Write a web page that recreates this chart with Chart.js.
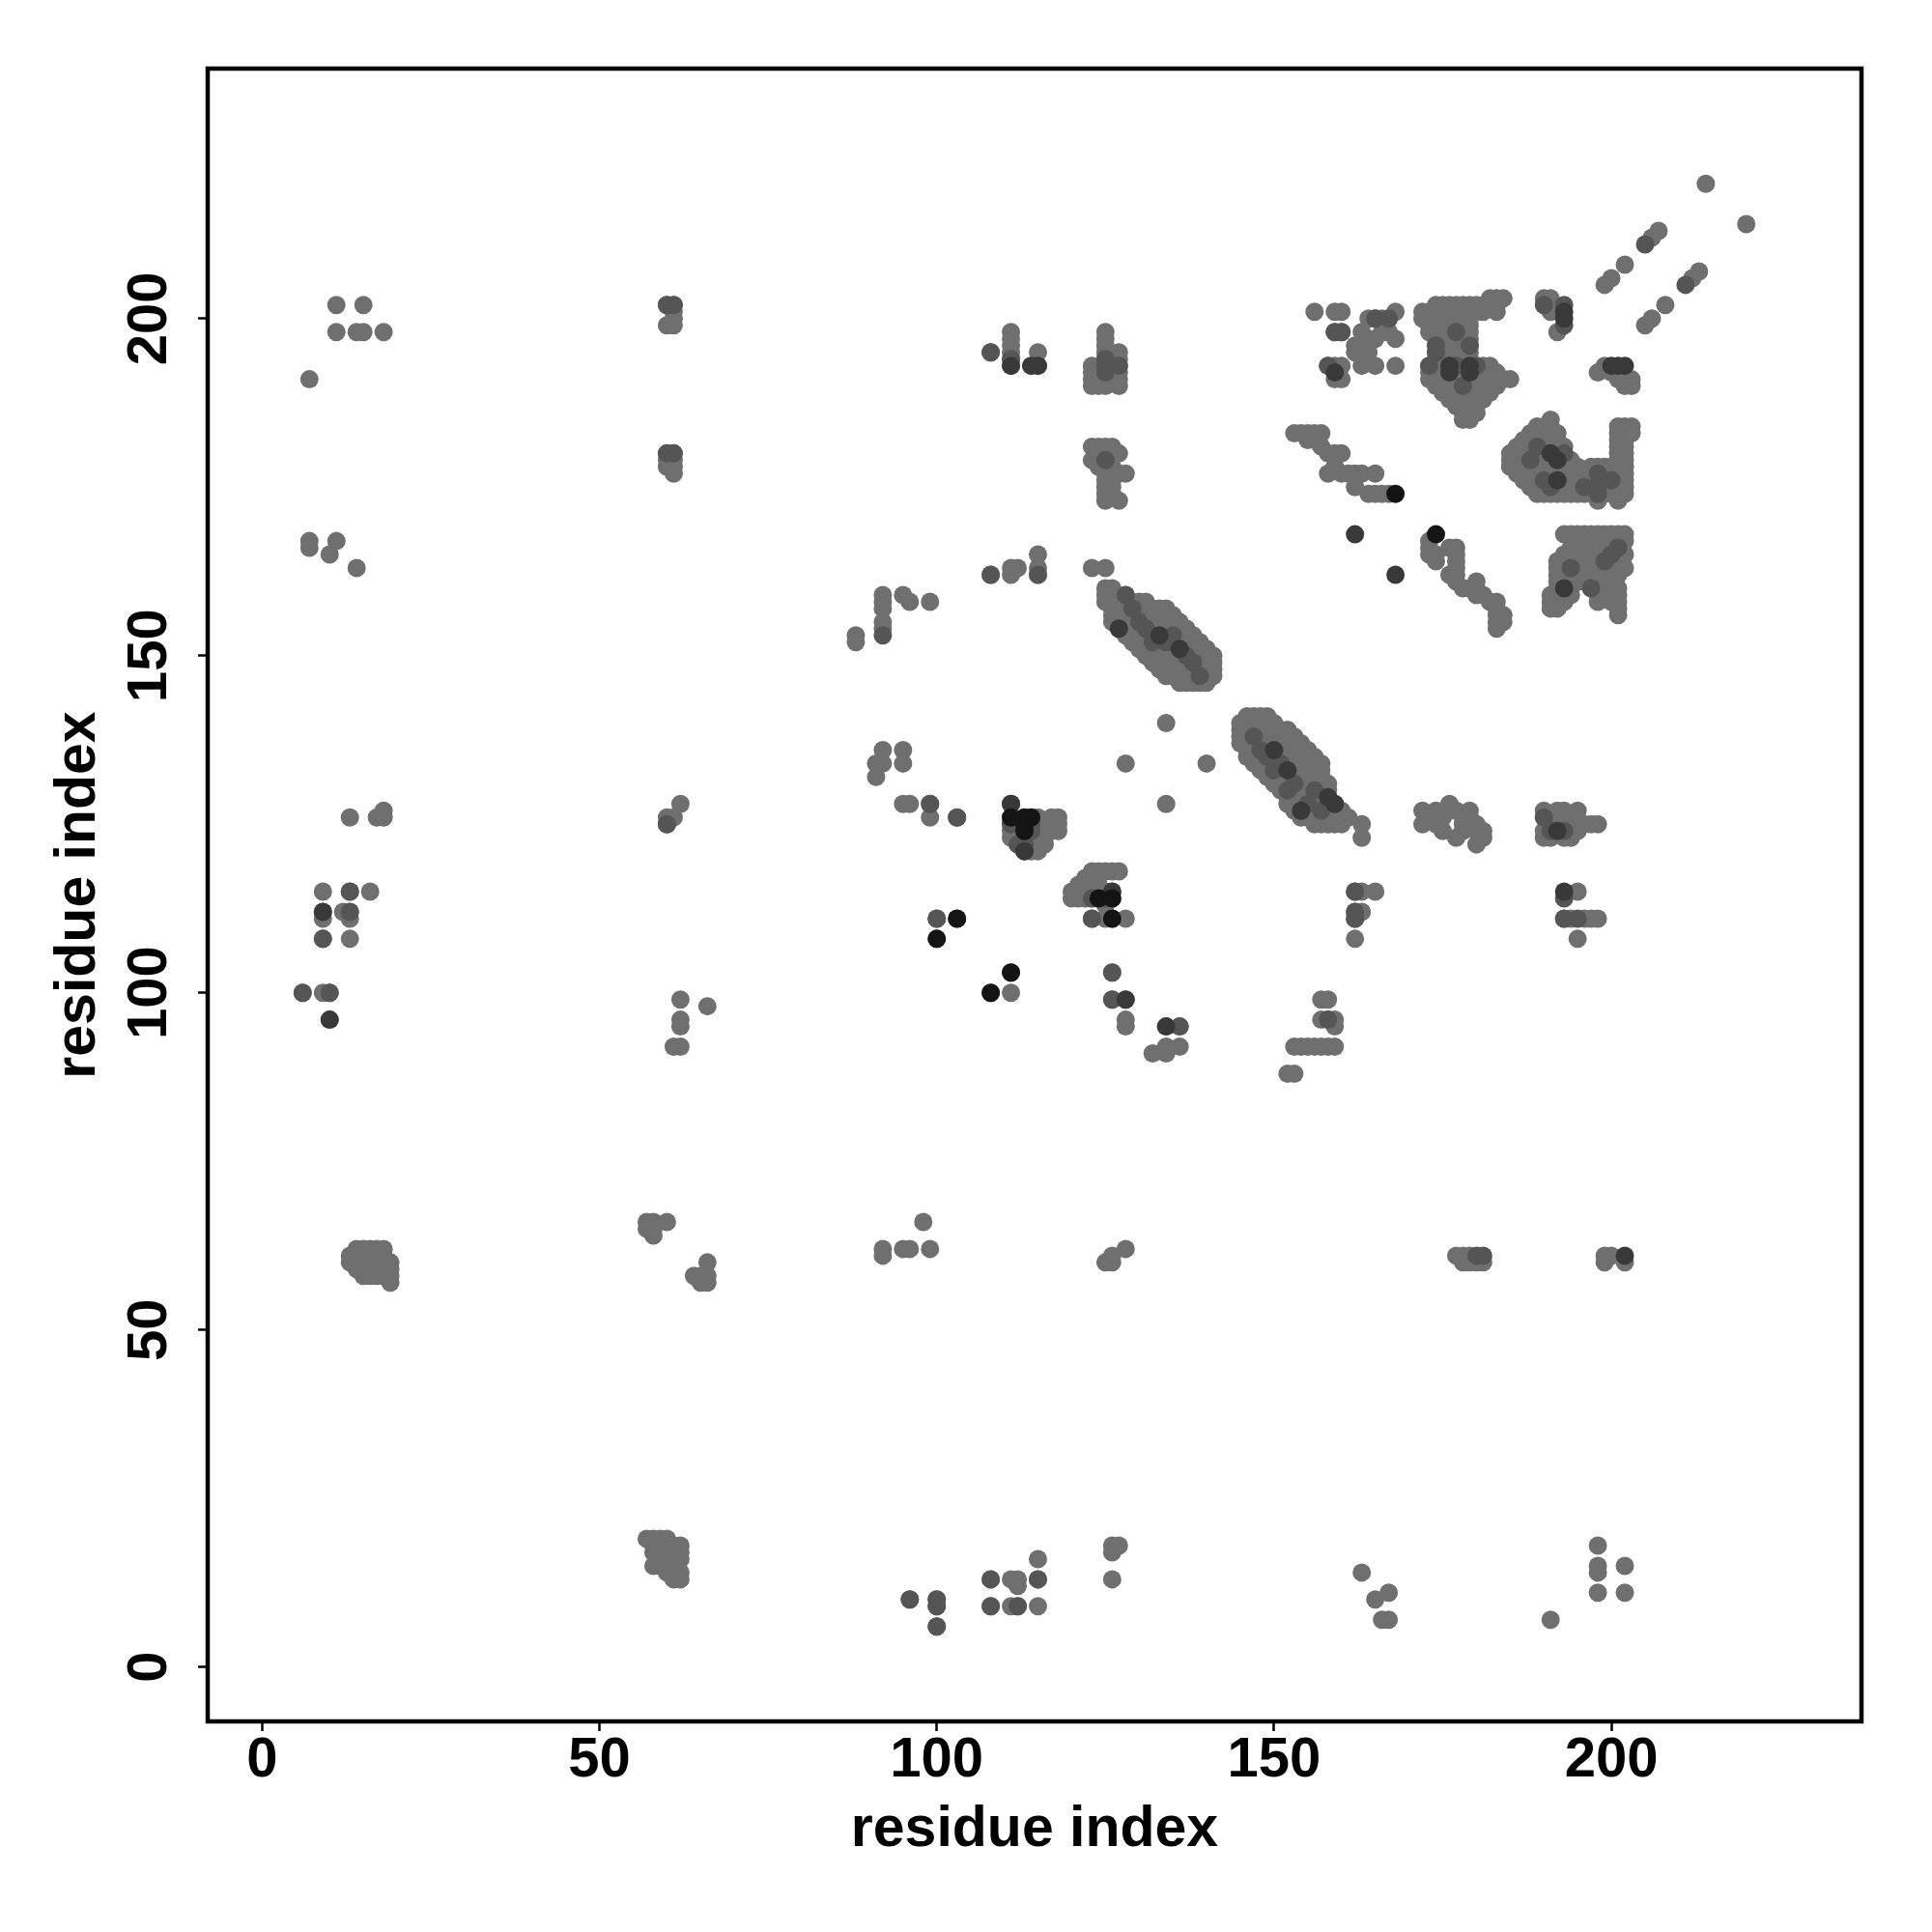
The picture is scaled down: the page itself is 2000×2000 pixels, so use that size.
<!DOCTYPE html>
<html>
<head>
<meta charset="utf-8">
<script src="https://cdn.jsdelivr.net/npm/chart.js@4.4.1/dist/chart.umd.min.js"></script>
<style>
  html, body { margin: 0; padding: 0; background: #fff; }
  canvas { display: block; }
</style>
</head>
<body>
<canvas id="contact-map" width="2000" height="2000"></canvas>
<script>
const xTickValues = [0, 50, 100, 150, 200];
const yTickValues = [0, 50, 100, 150, 200];
const xTitle = 'residue index';
const yTitle = 'residue index';

// grey contacts, one entry per residue column: [x, [y, y, ...]]
const contactColumns = [
    [6, [100]],
    [7, [191, 167, 166]],
    [9, [115, 112, 111, 108, 100]],
    [10, [165, 100, 96]],
    [11, [202, 198, 167]],
    [12, [112]],
    [13, [126, 115, 112, 111, 108, 61, 60]],
    [14, [198, 163, 62, 61, 60, 59]],
    [15, [202, 198, 62, 60, 59, 58]],
    [16, [115, 62, 61, 60, 59, 58]],
    [17, [126, 62, 61, 60, 58]],
    [18, [198, 127, 126, 62, 61, 59, 58]],
    [19, [60, 59, 58, 57]],
    [57, [66, 65, 19]],
    [58, [66, 65, 64, 19, 18, 17, 15]],
    [59, [19, 18, 17, 16, 15]],
    [60, [202, 199, 180, 179, 178, 126, 125, 66, 19, 18, 16, 15, 14]],
    [61, [202, 201, 200, 199, 180, 179, 178, 177, 126, 92, 18, 16, 15, 14, 13]],
    [62, [128, 99, 96, 95, 92, 18, 17, 16, 14, 13]],
    [64, [58]],
    [65, [58, 57]],
    [66, [98, 60, 58, 57]],
    [88, [153, 152]],
    [91, [134, 132]],
    [92, [159, 158, 157, 155, 154, 136, 134, 62, 61]],
    [95, [159, 136, 134, 128, 62]],
    [96, [158, 128, 62, 10]],
    [98, [66]],
    [99, [158, 128, 126, 62]],
    [100, [111, 108, 10, 9, 6]],
    [103, [126, 111]],
    [108, [195, 162, 100, 13, 9]],
    [111, [198, 197, 196, 195, 194, 193, 163, 162, 128, 126, 125, 124, 123, 103, 100, 13, 9]],
    [112, [163, 122, 13, 12, 9]],
    [113, [126, 125, 124, 123, 122, 121]],
    [114, [193, 126, 125, 124, 123, 122, 121]],
    [115, [195, 193, 165, 163, 162, 126, 124, 123, 121, 16, 13, 9]],
    [116, [125, 123, 122]],
    [117, [126, 125, 124]],
    [118, [126, 125, 124]],
    [120, [115, 114]],
    [121, [116, 115, 114]],
    [122, [117, 115, 114]],
    [123, [193, 192, 191, 190, 181, 179, 163, 118, 116, 114, 111]],
    [124, [190, 181, 178, 118, 116, 114]],
    [125, [198, 197, 196, 195, 194, 193, 192, 191, 190, 181, 179, 178, 177, 176, 175, 174, 173, 163, 160, 159, 158, 118, 115, 114, 113, 111, 60]],
    [126, [181, 178, 177, 176, 175, 174, 160, 159, 158, 157, 156, 155, 118, 115, 114, 111, 103, 99, 61, 60, 18, 17, 13]],
    [127, [195, 194, 193, 192, 191, 190, 180, 177, 173, 159, 158, 157, 156, 155, 154, 118, 18]],
    [128, [177, 159, 158, 157, 156, 155, 154, 153, 134, 111, 99, 96, 95, 62]],
    [129, [158, 157, 156, 155, 154, 153, 152]],
    [130, [158, 157, 156, 155, 154, 153, 152, 151]],
    [131, [158, 157, 156, 155, 154, 153, 152, 151, 150]],
    [132, [157, 156, 155, 154, 153, 152, 151, 150, 149, 91]],
    [133, [157, 156, 155, 154, 153, 152, 151, 150, 149, 148]],
    [134, [157, 156, 155, 154, 153, 152, 151, 150, 149, 148, 147, 140, 128, 95, 92, 91]],
    [135, [156, 155, 154, 153, 152, 151, 150, 149, 148, 147]],
    [136, [155, 154, 153, 152, 151, 150, 149, 148, 147, 146, 95, 92]],
    [137, [154, 153, 152, 151, 150, 149, 148, 147, 146]],
    [138, [153, 152, 151, 150, 149, 148, 147, 146]],
    [139, [152, 151, 150, 149, 148, 147, 146]],
    [140, [151, 150, 149, 148, 147, 146, 134]],
    [141, [150, 149, 148, 147]],
    [145, [140, 139, 138, 137]],
    [146, [141, 140, 139, 138, 137, 136, 135]],
    [147, [141, 140, 139, 138, 137, 136, 135, 134]],
    [148, [141, 140, 139, 138, 137, 136, 135, 134, 133]],
    [149, [141, 140, 139, 138, 137, 136, 135, 134, 133, 132]],
    [150, [140, 139, 138, 137, 136, 135, 134, 133, 132, 131]],
    [151, [139, 138, 137, 136, 135, 134, 133, 132, 131, 130]],
    [152, [139, 138, 137, 136, 135, 134, 133, 132, 131, 130, 129, 128, 88]],
    [153, [183, 138, 137, 136, 135, 134, 133, 132, 131, 130, 129, 128, 127, 92, 88]],
    [154, [183, 137, 136, 135, 134, 133, 132, 131, 130, 129, 128, 127, 126, 92]],
    [155, [183, 182, 136, 135, 134, 133, 132, 131, 130, 129, 128, 127, 126, 92]],
    [156, [201, 183, 182, 135, 134, 133, 132, 131, 130, 129, 128, 127, 126, 125, 92]],
    [157, [183, 181, 134, 133, 132, 131, 130, 129, 128, 127, 126, 125, 99, 96, 92]],
    [158, [193, 180, 177, 131, 130, 129, 128, 127, 126, 125, 99, 96, 92]],
    [159, [201, 198, 193, 192, 191, 180, 178, 128, 127, 126, 125, 96, 95, 92]],
    [160, [201, 198, 193, 191, 180, 177, 127, 126, 125]],
    [161, [177, 126]],
    [162, [196, 195, 177, 175, 115, 112, 111, 108]],
    [163, [198, 196, 193, 177, 125, 123, 115, 112, 14]],
    [164, [200, 197, 195, 174]],
    [165, [200, 197, 193, 177, 174, 115, 10]],
    [166, [200, 198, 174, 7]],
    [167, [200, 198, 174, 11, 7]],
    [168, [201, 197, 193]],
    [172, [201, 200, 127, 125]],
    [173, [201, 200, 199, 198, 193, 192, 191, 167, 166, 165, 126]],
    [174, [202, 200, 199, 198, 197, 196, 195, 194, 193, 192, 191, 190, 165, 164, 127, 125]],
    [175, [202, 201, 196, 195, 193, 191, 190, 189, 126, 124]],
    [176, [202, 201, 200, 199, 198, 191, 190, 189, 188, 166, 162, 128, 127]],
    [177, [202, 201, 200, 199, 197, 196, 195, 194, 192, 191, 190, 189, 188, 187, 166, 165, 164, 163, 162, 161, 127, 123, 61]],
    [178, [202, 200, 199, 198, 197, 196, 195, 194, 193, 192, 191, 190, 189, 188, 187, 186, 185, 160, 126, 125, 124, 61, 60]],
    [179, [202, 201, 200, 199, 198, 197, 196, 195, 194, 191, 190, 189, 188, 187, 186, 185, 160, 127, 126, 61, 60]],
    [180, [202, 201, 192, 191, 190, 189, 188, 187, 186, 161, 160, 159, 125, 124, 122, 60]],
    [181, [202, 201, 193, 192, 191, 190, 189, 188, 159, 124, 123, 60]],
    [182, [203, 202, 193, 192, 191, 190, 189, 158]],
    [183, [203, 202, 201, 192, 191, 190, 158, 157, 156, 155, 154]],
    [184, [203, 191, 156, 155]],
    [185, [191, 180, 179, 178]],
    [186, [181, 180, 179, 178, 177]],
    [187, [182, 181, 180, 179, 178, 177, 176]],
    [188, [183, 182, 181, 180, 178, 177, 176, 175]],
    [189, [184, 183, 182, 181, 180, 179, 178, 177, 176, 175, 174]],
    [190, [203, 184, 183, 182, 181, 180, 179, 178, 177, 175, 174, 127, 124, 123]],
    [191, [203, 201, 185, 184, 183, 182, 181, 179, 178, 177, 176, 175, 174, 159, 158, 157, 126, 125, 123, 7]],
    [192, [198, 183, 182, 181, 180, 178, 177, 175, 174, 164, 163, 162, 161, 160, 159, 158, 157, 127, 125, 124]],
    [193, [181, 179, 178, 177, 176, 175, 174, 168, 165, 164, 163, 162, 161, 159, 158, 127, 126, 125, 123, 111]],
    [194, [179, 178, 177, 176, 175, 174, 168, 166, 165, 164, 163, 162, 161, 160, 159, 125, 123, 111]],
    [195, [178, 177, 176, 175, 174, 168, 167, 166, 165, 164, 163, 162, 161, 127, 124, 115, 108]],
    [196, [177, 176, 175, 174, 168, 167, 166, 165, 164, 163, 162, 161, 125, 111]],
    [197, [178, 177, 176, 175, 174, 168, 167, 166, 165, 164, 163, 162, 125, 111]],
    [198, [192, 178, 176, 173, 168, 167, 166, 165, 164, 163, 162, 161, 160, 159, 158, 125, 111, 18, 15, 14, 11]],
    [199, [205, 193, 178, 177, 176, 175, 174, 168, 166, 165, 163, 162, 161, 160, 159, 61, 60]],
    [200, [206, 192, 178, 177, 175, 174, 168, 166, 164, 161, 160, 159, 158, 61]],
    [201, [191, 184, 183, 182, 181, 180, 179, 178, 177, 176, 175, 174, 173, 168, 167, 165, 164, 163, 162, 160, 159, 158, 157, 156]],
    [202, [208, 191, 190, 184, 183, 182, 181, 180, 179, 178, 177, 176, 175, 174, 168, 167, 165, 163, 60, 15, 11]],
    [203, [191, 190, 184, 183]],
    [205, [199]],
    [206, [212, 200]],
    [207, [213]],
    [208, [202]],
    [212, [206]],
    [213, [207]],
    [214, [220]],
    [220, [214]],
];

// darker contacts as [x, y]
const darkContacts = [
    [6, 100], [10, 100], [13, 115], [9, 108], [13, 112], [60, 202], [61, 202], [60, 180], [61, 180], [60, 125],
    [99, 128], [103, 126], [108, 195], [108, 162], [111, 194], [111, 125], [100, 111], [100, 10], [100, 9], [100, 6],
    [112, 9], [108, 9], [114, 125], [115, 162], [114, 124], [113, 123], [113, 122], [125, 194], [125, 192], [127, 193],
    [125, 179], [123, 114], [123, 111], [125, 114], [126, 103], [126, 99], [136, 95], [128, 159], [129, 157], [131, 154],
    [134, 152], [137, 150], [139, 147], [147, 138], [149, 135], [151, 134], [153, 131], [156, 130], [162, 115], [162, 112],
    [162, 111], [158, 96], [165, 200], [167, 200], [159, 198], [160, 198], [158, 193], [174, 196], [174, 195], [173, 193],
    [177, 193], [180, 193], [190, 202], [193, 202], [193, 199], [188, 179], [190, 176], [193, 180], [198, 177], [198, 175],
    [198, 174], [200, 176], [199, 164], [200, 165], [201, 166], [193, 114], [195, 111], [193, 111], [180, 61], [181, 61],
    [211, 205], [205, 211], [108, 13], [112, 122], [96, 10], [92, 153], [115, 13], [191, 124], [193, 124], [190, 126],
    [130, 155], [132, 152], [135, 153], [138, 149], [148, 136], [150, 133], [152, 130], [155, 128], [157, 127],
    [177, 198], [179, 196], [178, 190], [189, 181], [191, 175], [196, 175], [194, 163], [197, 160], [125, 193],
];

const darkerContacts = [
    [162, 168], [168, 162], [10, 96], [9, 112], [113, 121], [193, 115], [111, 193], [115, 193], [114, 193], [126, 115],
    [128, 99], [134, 95], [159, 128], [200, 193], [201, 193], [202, 193], [193, 201], [193, 200], [202, 61], [111, 128],
    [192, 124], [158, 129], [127, 154], [133, 153], [136, 151], [150, 136], [152, 133], [154, 127], [176, 193], [176, 192],
    [179, 193], [179, 192], [191, 180], [192, 179], [192, 176], [193, 160], [159, 192],
];

const blackContacts = [
    [100, 108], [103, 111], [111, 126], [113, 126], [114, 126], [113, 125], [113, 124], [111, 103], [108, 100], [124, 114],
    [126, 114], [126, 111], [168, 174], [174, 168],
];

const toPoints = (cols) => cols.flatMap(([x, ys]) => ys.map(y => ({ x, y })));
const toPairs = (pairs) => pairs.map(([x, y]) => ({ x, y }));

const FONT = '"Liberation Sans", Arial, Helvetica, sans-serif';

// draws the box, the tick labels and the axis titles in R base-graphics style
const frameAndLabels = {
    id: 'frameAndLabels',
    afterDraw(chart) {
        const { ctx, chartArea: a, scales } = chart;
        ctx.save();
        ctx.strokeStyle = '#000';
        ctx.lineWidth = 4.5;
        ctx.strokeRect(a.left, a.top, a.right - a.left, a.bottom - a.top);

        ctx.fillStyle = '#000';
        ctx.textAlign = 'center';
        ctx.textBaseline = 'alphabetic';
        ctx.font = `bold 58px ${FONT}`;
        xTickValues.forEach(v => {
            ctx.fillText(String(v), scales.x.getPixelForValue(v), a.bottom + 57);
        });
        yTickValues.forEach(v => {
            ctx.save();
            ctx.translate(a.left - 43, scales.y.getPixelForValue(v));
            ctx.rotate(-Math.PI / 2);
            ctx.fillText(String(v), 0, 0);
            ctx.restore();
        });

        ctx.font = `bold 59px ${FONT}`;
        ctx.fillText(xTitle, (a.left + a.right) / 2, a.bottom + 129);
        ctx.save();
        ctx.translate(a.left - 117, (a.top + a.bottom) / 2);
        ctx.rotate(-Math.PI / 2);
        ctx.fillText(yTitle, 0, 0);
        ctx.restore();
        ctx.restore();
    }
};

const axisOptions = (ticks, fit) => ({
    type: 'linear',
    min: -8.08,
    max: 237.08,
    afterFit: fit,
    afterBuildTicks: (scale) => { scale.ticks = ticks.map(value => ({ value })); },
    ticks: { display: false },
    grid: { drawOnChartArea: false, drawTicks: true, tickLength: 10, tickWidth: 2.5, tickColor: '#000' },
    border: { display: false },
});

const dataset = (data, color) => ({
    data,
    backgroundColor: color,
    borderWidth: 0,
    pointRadius: 9.5,
    pointHoverRadius: 9.5,
});

new Chart(document.getElementById('contact-map'), {
    type: 'scatter',
    data: {
        datasets: [
            dataset(toPairs(blackContacts), '#141414'),
            dataset(toPairs(darkerContacts), '#393939'),
            dataset(toPairs(darkContacts), '#555555'),
            dataset(toPoints(contactColumns), '#6f6f6f'),
        ],
    },
    options: {
        responsive: false,
        animation: false,
        devicePixelRatio: 1,
        events: [],
        layout: { padding: { top: 71, right: 73, left: 0, bottom: 0 } },
        plugins: { legend: { display: false }, tooltip: { enabled: false } },
        scales: {
            x: axisOptions(xTickValues, (scale) => { scale.height = 218; }),
            y: axisOptions(yTickValues, (scale) => { scale.width = 215; }),
        },
    },
    plugins: [frameAndLabels],
});
</script>
</body>
</html>
